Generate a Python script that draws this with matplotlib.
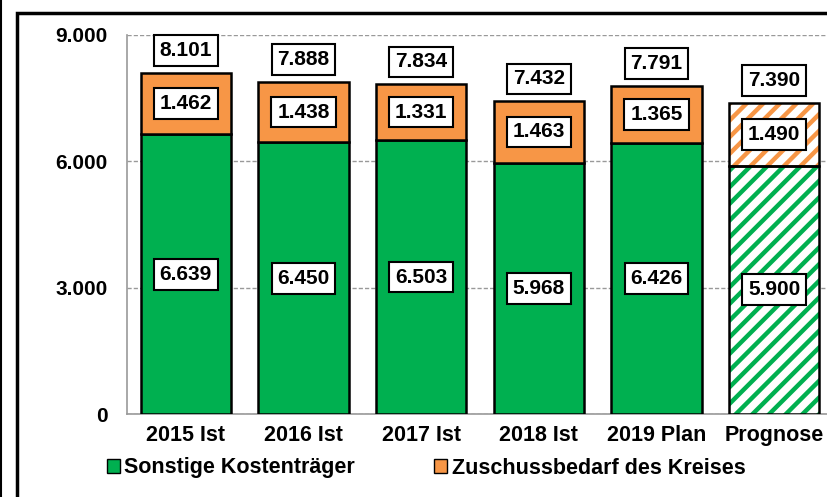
import numpy as np
import matplotlib.pyplot as plt
from matplotlib.patches import Rectangle
from matplotlib.lines import Line2D

categories = ['2015 Ist', '2016 Ist', '2017 Ist', '2018 Ist', '2019 Plan', 'Prognose']
sonstige = [6639, 6450, 6503, 5968, 6426, 5900]
zuschuss = [1462, 1438, 1331, 1463, 1365, 1490]
totals = [8101, 7888, 7834, 7432, 7791, 7390]
yticks = [0, 3000, 6000, 9000]
ytick_labels = ['0', '3.000', '6.000', '9.000']
legend_labels = ['Sonstige Kostenträger', 'Zuschussbedarf des Kreises']

green = '#00B050'
orange = '#F79646'

plt.rcParams['font.family'] = ['Liberation Sans', 'DejaVu Sans']
plt.rcParams['font.weight'] = 'bold'
plt.rcParams['hatch.linewidth'] = 3.2

def fmt(v):
    return '{:,}'.format(v).replace(',', '.')

fig = plt.figure(figsize=(8.28, 4.97), dpi=100)
ax = fig.add_axes([127/828, 83/497, 706/828, 379/497])

x = np.arange(len(categories))
w = 0.765
n_ist = len(categories) - 1

# solid bars
ax.bar(x[:n_ist], sonstige[:n_ist], w, color=green, edgecolor='black', linewidth=1.8, zorder=3)
ax.bar(x[:n_ist], zuschuss[:n_ist], w, bottom=sonstige[:n_ist], color=orange,
       edgecolor='black', linewidth=1.8, zorder=3)

# forecast bar with stripes
ax.bar(x[n_ist:], sonstige[n_ist:], w, color='white', edgecolor=green, hatch='//',
       linewidth=0, zorder=3)
ax.bar(x[n_ist:], zuschuss[n_ist:], w, bottom=sonstige[n_ist:], color='white',
       edgecolor=orange, hatch='//', linewidth=0, zorder=3)
ax.bar(x[n_ist:], sonstige[n_ist:], w, fill=False, edgecolor='black', linewidth=1.8, zorder=4)
ax.bar(x[n_ist:], zuschuss[n_ist:], w, bottom=sonstige[n_ist:], fill=False,
       edgecolor='black', linewidth=1.8, zorder=4)

box = dict(boxstyle='square,pad=0.28', facecolor='white', edgecolor='black', linewidth=1.5)
for i in range(len(categories)):
    ax.text(x[i], sonstige[i] / 2, fmt(sonstige[i]), ha='center', va='center',
            fontsize=15, fontweight='bold', bbox=box, zorder=5)
    ax.text(x[i], sonstige[i] + zuschuss[i] / 2, fmt(zuschuss[i]), ha='center', va='center',
            fontsize=15, fontweight='bold', bbox=box, zorder=5)
    ax.annotate(fmt(totals[i]), (x[i], sonstige[i] + zuschuss[i]), xytext=(0, 16),
                textcoords='offset points', ha='center', va='center',
                fontsize=15, fontweight='bold', bbox=box, zorder=5)

ax.set_xlim(-0.5, len(categories) - 0.5)
ax.set_ylim(0, 9000)
ax.set_yticks(yticks)
ax.set_yticklabels(ytick_labels, fontsize=15, fontweight='bold')
ax.set_xticks(x)
ax.set_xticklabels(categories, fontsize=15.5, fontweight='bold')
ax.tick_params(axis='both', length=0)
ax.tick_params(axis='y', pad=14)
ax.tick_params(axis='x', pad=8)
ax.yaxis.grid(True, linestyle=(0, (3, 1.5)), color='#999999', linewidth=1, zorder=0)
ax.set_axisbelow(True)
for s in ['top', 'right']:
    ax.spines[s].set_visible(False)
for s in ['left', 'bottom']:
    ax.spines[s].set_color('#999999')
    ax.spines[s].set_linewidth(1.2)

handles = [Rectangle((0, 0), 1, 1, facecolor=green, edgecolor='black', linewidth=1),
           Rectangle((0, 0), 1, 1, facecolor=orange, edgecolor='black', linewidth=1)]
leg = fig.legend(handles, legend_labels, loc='center left', bbox_to_anchor=(96/828, 1 - 468/497),
                 ncol=2, frameon=False, handlelength=0.6, handleheight=0.6, handletextpad=0.2,
                 columnspacing=3.7, borderpad=0, prop={'weight': 'bold', 'size': 15.5})

# chart frame
fig.patches.append(Rectangle((17.5/828, -0.1), 1.0, 1 - 12.5/497 + 0.1, transform=fig.transFigure,
                             fill=False, edgecolor='black', linewidth=2.5))
fig.lines.append(Line2D([1/828, 1/828], [0, 1], transform=fig.transFigure, color='black', linewidth=1.5))

fig.savefig('out.png', dpi=100)
